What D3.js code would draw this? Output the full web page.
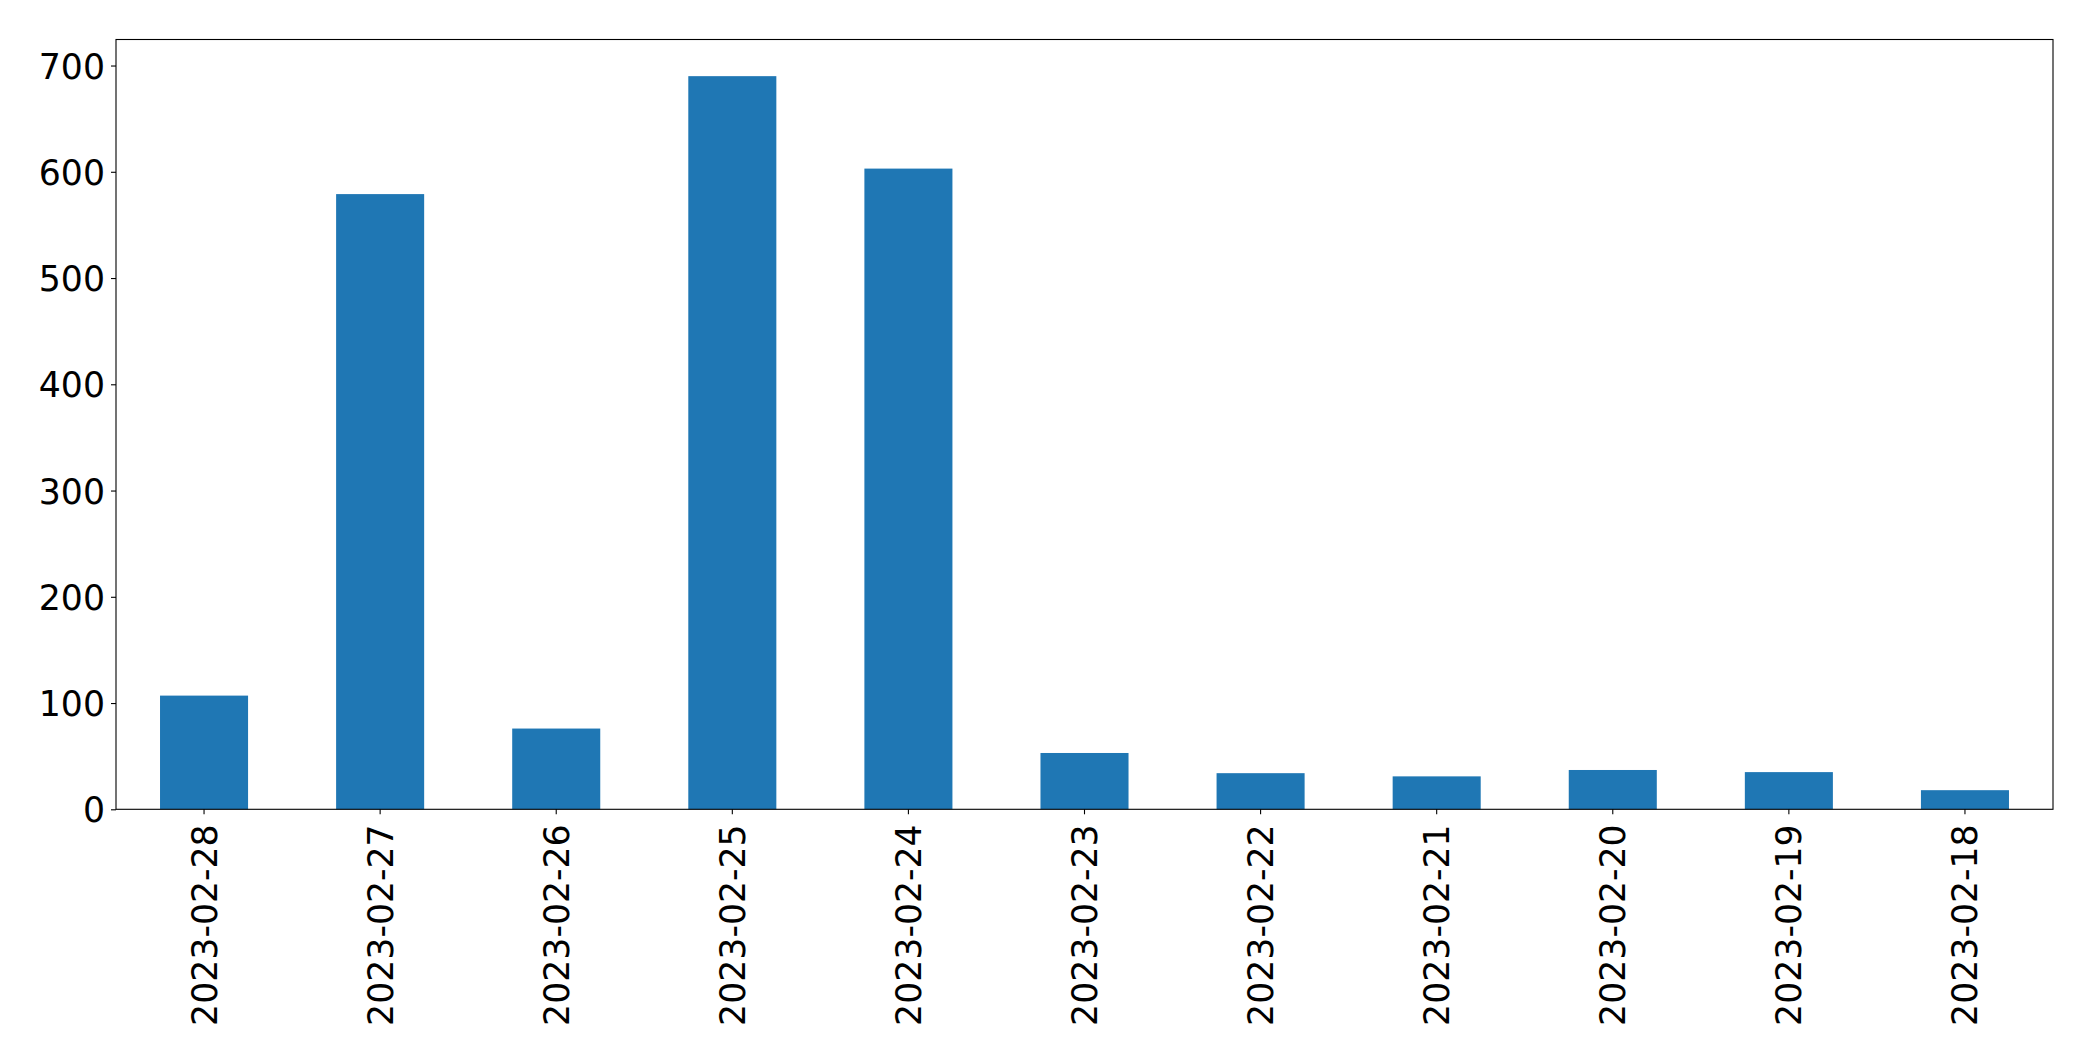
<!DOCTYPE html>
<html>
<head>
<meta charset="utf-8">
<script src="https://cdn.jsdelivr.net/npm/d3@7"></script>
<style>
  html, body { margin: 0; padding: 0; background: #fff; }
  svg { display: block; }
  text { font-family: "DejaVu Sans", sans-serif; fill: #000; }
</style>
</head>
<body>
<svg id="chart" width="2093" height="1061"></svg>
<script>
const categories = ["2023-02-28","2023-02-27","2023-02-26","2023-02-25","2023-02-24","2023-02-23","2023-02-22","2023-02-21","2023-02-20","2023-02-19","2023-02-18"];
const values = [107, 579, 76, 690, 603, 53, 34, 31, 37, 35, 18];
const yTicks = [0, 100, 200, 300, 400, 500, 600, 700];

const W = 2093, H = 1061;
const plotLeft = 116, plotRight = 2053, plotTop = 39.5, plotBottom = 809.3;
const fontSize = 34.7;

const svg = d3.select("#chart");

const x = d3.scaleBand().domain(categories).range([plotLeft, plotRight]).paddingInner(0.5).paddingOuter(0.25);
const y = d3.scaleLinear().domain([0, 724.5]).range([plotBottom, plotTop]);

svg.append("g").selectAll("rect").data(values).join("rect")
  .attr("x", (d, i) => x(categories[i]))
  .attr("width", x.bandwidth())
  .attr("y", d => y(d))
  .attr("height", d => y(0) - y(d))
  .attr("fill", "#1f77b4");

// frame
svg.append("rect")
  .attr("x", plotLeft).attr("y", plotTop)
  .attr("width", plotRight - plotLeft).attr("height", plotBottom - plotTop)
  .attr("fill", "none").attr("stroke", "#000").attr("stroke-width", 1.1);

// y axis
const yAxis = d3.axisLeft(y).tickValues(yTicks).tickSize(5).tickPadding(6).tickFormat(d3.format("d"));
const gy = svg.append("g").attr("transform", `translate(${plotLeft},0)`).call(yAxis);
gy.select(".domain").remove();
gy.selectAll(".tick line").attr("stroke", "#000").attr("stroke-width", 1.1);
gy.selectAll(".tick text").style("font-size", fontSize + "px").attr("font-family", "DejaVu Sans").attr("fill", "#000").attr("dy", "0.36em");

// x axis
const xAxis = d3.axisBottom(x).tickSize(5).tickPadding(0);
const gx = svg.append("g").attr("transform", `translate(0,${plotBottom})`).call(xAxis);
gx.select(".domain").remove();
gx.selectAll(".tick line").attr("stroke", "#000").attr("stroke-width", 1.1);
gx.selectAll(".tick text")
  .style("font-size", fontSize + "px")
  .attr("font-family", "DejaVu Sans")
  .attr("fill", "#000")
  .attr("text-anchor", "end")
  .attr("y", 0).attr("dy", "0.36em")
  .attr("transform", "translate(0,15) rotate(-90)");
</script>
</body>
</html>
